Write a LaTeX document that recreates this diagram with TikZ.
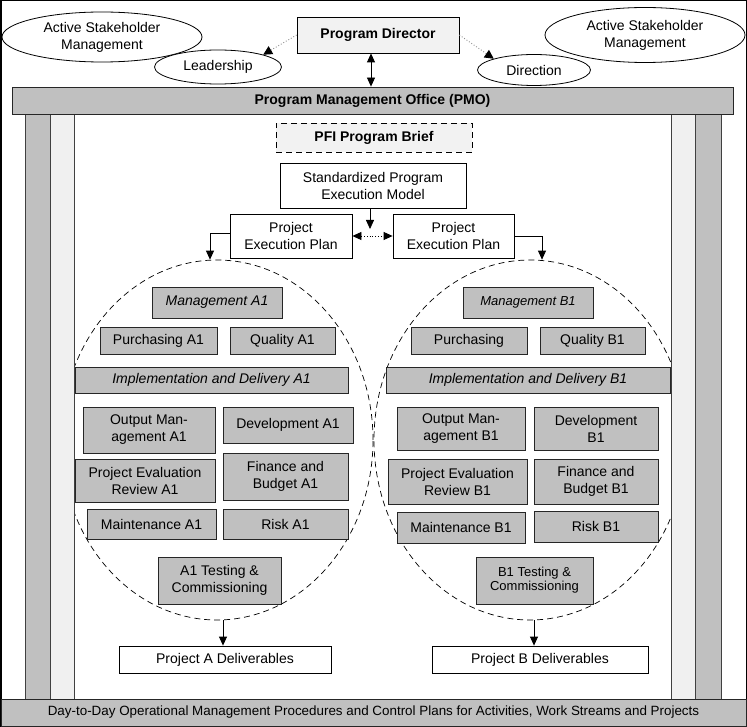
\documentclass[tikz,border=0pt]{standalone}
\usepackage{fontspec}
\setmainfont{Liberation Sans}
\usetikzlibrary{arrows.meta,shapes.geometric}
\definecolor{boxgray}{HTML}{C0C0C0}
\definecolor{lightfill}{HTML}{F2F2F2}
\definecolor{pillarlight}{HTML}{F0F0F0}
\newcommand{\fs}{\fontsize{14}{17}\selectfont}
\begin{document}
\begin{tikzpicture}[x=1pt,y=-1pt,
  font=\fs,
  gbox/.style={draw=black!85, fill=boxgray, line width=0.8pt, inner sep=0pt, align=center},
  wbox/.style={draw=black, fill=white, line width=0.8pt, inner sep=0pt, align=center},
  oval/.style={draw=black, fill=white, ellipse, inner sep=0pt, line width=0.8pt, align=center},
  dashell/.style={draw=black, ellipse, inner sep=0pt, line width=0.7pt, dash pattern=on 6pt off 4pt},
  tip/.style={-{Triangle[length=9pt,width=8pt]}},
  arr/.style={tip, line width=0.8pt},
  dotarr/.style={-{Triangle[length=9pt,width=9pt,black]}, draw=black!45, line width=0.9pt, dotted},
  pillar/.style={draw=black!75, line width=0.8pt}
]
\useasboundingbox (0,0) rectangle (747,727);
% outer frame
\draw[line width=1.5pt] (0.75,0.75) rectangle (746.25,726.25);

% dashed project ellipses
\node[dashell, minimum width=312pt, minimum height=360pt] (ellA) at (217,440) {};
\node[dashell, minimum width=312pt, minimum height=360pt] (ellB) at (530,440) {};

% pillars
\filldraw[pillar, fill=boxgray] (25,114) rectangle (50,699);
\filldraw[pillar, fill=pillarlight] (50,114) rectangle (74,699);
\filldraw[pillar, fill=pillarlight] (671,114) rectangle (695,699);
\filldraw[pillar, fill=boxgray] (695,114) rectangle (721,699);

% bars
\node[gbox, minimum width=721pt, minimum height=27pt, font=\fs\bfseries] (pmo) at (372.5,100.5) {Program Management Office (PMO)};
\node[gbox, minimum width=745pt, minimum height=27pt, font=\fontsize{13.4}{15}\selectfont] (ops) at (373.5,712.5) {Day-to-Day Operational Management Procedures and Control Plans for Activities, Work Streams and Projects};

% top area
\node[wbox, fill=lightfill, minimum width=162pt, minimum height=36pt, font=\fs\bfseries] (dir) at (378,35) {Program Director};
\node[oval, minimum width=200pt, minimum height=50pt] (saL) at (102,37) {Active Stakeholder\\Management};
\node[oval, minimum width=127pt, minimum height=34pt] (lead) at (218,67) {Leadership};
\node[oval, minimum width=200pt, minimum height=55pt] (saR) at (645,35) {Active Stakeholder\\Management};
\node[oval, minimum width=113pt, minimum height=31pt] (dirn) at (534,70) {Direction};

% central column
\node[wbox, fill=lightfill, dash pattern=on 6pt off 4pt, minimum width=196pt, minimum height=29pt, font=\fs\bfseries] (pfi) at (374,137.5) {PFI Program Brief};
\node[wbox, minimum width=186pt, minimum height=45pt] (spem) at (373,185.5) {Standardized Program\\Execution Model};
\node[wbox, minimum width=122pt, minimum height=44pt] (pepL) at (291,236) {Project\\Execution Plan};
\node[wbox, minimum width=121pt, minimum height=44pt] (pepR) at (453.5,236) {Project\\Execution Plan};

% project A
\node[gbox, minimum width=130pt, minimum height=31pt, font=\fs\itshape] (mgA) at (217,302.5) {Management A1};
\node[gbox, minimum width=117pt, minimum height=27pt] (purA) at (158.5,340.5) {Purchasing A1};
\node[gbox, minimum width=105pt, minimum height=27pt] (qualA) at (282.5,340.5) {Quality A1};
\node[gbox, minimum width=273pt, minimum height=26pt, font=\fs\itshape] (impA) at (211.5,380) {Implementation and Delivery A1};
\node[gbox, minimum width=132pt, minimum height=46pt] (outA) at (149,430) {Output Man-\\agement A1};
\node[gbox, minimum width=130pt, minimum height=36pt] (devA) at (288,425) {Development A1};
\node[gbox, minimum width=140pt, minimum height=43pt] (perA) at (145,480.5) {Project Evaluation\\Review A1};
\node[gbox, minimum width=125pt, minimum height=47pt] (finA) at (285.5,476.5) {Finance and\\Budget A1};
\node[gbox, minimum width=129pt, minimum height=30pt] (mntA) at (151.5,524) {Maintenance A1};
\node[gbox, minimum width=125pt, minimum height=30pt] (riskA) at (285.5,524) {Risk A1};
\node[gbox, minimum width=123pt, minimum height=47pt] (testA) at (219.5,580.5) {A1 Testing \&\\Commissioning};
\node[wbox, minimum width=212pt, minimum height=27pt] (delA) at (225,659.5) {Project A Deliverables};

% project B
\node[gbox, minimum width=130pt, minimum height=31pt, font=\fontsize{13}{15}\selectfont\itshape] (mgB) at (528,302.5) {Management B1};
\node[gbox, minimum width=116pt, minimum height=27pt] (purB) at (469,340.5) {Purchasing};
\node[gbox, minimum width=105pt, minimum height=27pt] (qualB) at (592.5,340.5) {Quality B1};
\node[gbox, minimum width=284pt, minimum height=26pt, font=\fs\itshape] (impB) at (528,380) {Implementation and Delivery B1};
\node[gbox, minimum width=128pt, minimum height=43pt] (outB) at (461,428.5) {Output Man-\\agement B1};
\node[gbox, minimum width=124pt, minimum height=43pt] (devB) at (596,428.5) {Development\\B1};
\node[gbox, minimum width=139pt, minimum height=45pt] (perB) at (457.5,481.5) {Project Evaluation\\Review B1};
\node[gbox, minimum width=124pt, minimum height=45pt] (finB) at (596,481.5) {Finance and\\Budget B1};
\node[gbox, minimum width=128pt, minimum height=31pt] (mntB) at (461,527.5) {Maintenance B1};
\node[gbox, minimum width=124pt, minimum height=31pt] (riskB) at (596,526.5) {Risk B1};
\node[gbox, minimum width=117pt, minimum height=47pt, font=\fontsize{13}{14}\selectfont] (testB) at (534.5,580.5) {B1 Testing \&\\Commissioning};
\node[wbox, minimum width=216pt, minimum height=27pt] (delB) at (540,659.5) {Project B Deliverables};

% connectors
\draw[dotarr] (dir.west) -- (lead.north east);
\draw[dotarr] (dir.east) -- (dirn.north west);
\coordinate (dpx) at (371,0);
\draw[{Triangle[length=9pt,width=8pt]}-{Triangle[length=9pt,width=8pt]}, line width=0.8pt] (dir.south -| dpx) -- (pmo.north -| dpx);
\coordinate (spx) at (370,229);
\draw[arr] (spem.south -| spx) -- (spx);
\draw[{Triangle[length=9pt,width=8pt]}-{Triangle[length=9pt,width=8pt]}, line width=0.8pt, dotted] (pepL.east) -- (pepR.west);
\draw[arr] ([yshift=3pt]pepL.west) -| ([xshift=-7pt]ellA.north);
\draw[arr] (pepR.east) -| ([xshift=12pt]ellB.north);
\draw[arr] ([xshift=-2pt]delA.north |- ellA.south) -- ([xshift=-2pt]delA.north);
\draw[arr] ([xshift=-6pt]delB.north |- ellB.south) -- ([xshift=-6pt]delB.north);
\end{tikzpicture}
\end{document}
